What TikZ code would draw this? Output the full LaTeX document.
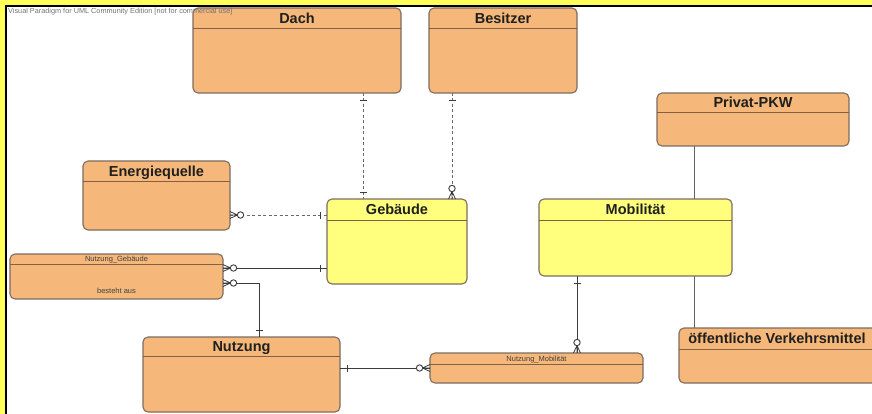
\documentclass[tikz,border=0pt]{standalone}
\usepackage{fontspec}
\setmainfont{Liberation Sans}
\usetikzlibrary{calc}
\definecolor{frameY}{RGB}{255,255,90}
\definecolor{entO}{RGB}{245,184,122}
\definecolor{entY}{RGB}{255,255,125}
\definecolor{edgeC}{RGB}{125,108,95}
\definecolor{hdrC}{RGB}{130,95,70}
\definecolor{connC}{RGB}{60,60,60}
\definecolor{dconnC}{RGB}{105,105,105}
\tikzset{
 ebox/.style={draw=edgeC, line width=1.1pt, rounded corners=5pt, anchor=north west, outer sep=0pt, inner sep=0pt},
 hline/.style={draw=hdrC, line width=1pt},
 etitle/.style={font=\fontsize{14.5}{16}\selectfont\bfseries, text=black!88, inner sep=0pt, text height=10pt, text depth=0pt},
 esmall/.style={font=\fontsize{7.5}{9}\selectfont, text=black!75, inner sep=0pt, text height=5.5pt, text depth=0pt},
 rel/.style={draw=connC, line width=0.8pt},
 drel/.style={draw=dconnC, line width=0.8pt, dash pattern=on 3pt off 2.5pt},
 onebar/.pic={\draw[connC, line width=0.8pt] (7,-3.5) -- (7,3.5);},
 zmany/.pic={\draw[connC, line width=0.8pt] (0,-3.5) -- (7.5,0) -- (0,3.5) (0,0) -- (7.5,0);
   \draw[connC, line width=0.9pt, fill=white] (10.5,0) circle (3.2);}
}
\newcommand\mkent[9]{%
 \node[ebox, fill=#7, minimum width=#4pt, minimum height=#5pt] (#1) at (#2,#3) {};
 \draw[hline] ($(#1.north west)+(0,#6)$) -- ($(#1.north east)+(0,#6)$);
 \node[#9] (#1-t) at ($(#1.north)+(0,#6/2)$) {#8};
}
\begin{document}
\begin{tikzpicture}[x=1pt,y=-1pt]
\useasboundingbox (0,0) rectangle (872,414);
\clip (0,0) rectangle (872,414);
% frame
\fill[frameY] (0,0) rectangle (872,414);
\fill[white] (6,6) rectangle (872,414);
\draw[black, line width=2pt] (6,414) -- (6,6) -- (872,6);

% entities
\mkent{dach}{193}{8}{208}{85}{21}{entO}{Dach}{etitle}
\mkent{bes}{429}{8}{148}{85}{21}{entO}{Besitzer}{etitle}
\mkent{pkw}{657}{93}{192}{53}{20}{entO}{Privat-PKW}{etitle}
\mkent{energ}{83}{161}{147}{69}{21}{entO}{Energiequelle}{etitle}
\mkent{geb}{327}{199}{140}{85}{21}{entY}{Geb\"aude}{etitle}
\mkent{mob}{539}{199}{193}{77}{21}{entY}{Mobilit\"at}{etitle}
\mkent{ng}{10}{254}{213}{45}{10}{entO}{Nutzung\_Geb\"aude}{esmall}
\node[esmall] (ng-b) at ($(ng.south)+(0,-8)$) {besteht aus};
\mkent{nutz}{143}{337}{197}{75}{19}{entO}{Nutzung}{etitle}
\mkent{nm}{430}{353}{213}{30}{11}{entO}{Nutzung\_Mobilit\"at}{esmall}
\mkent{oef}{679}{328}{220}{55}{21}{entO}{\hspace*{-24pt}\"offentliche Verkehrsmittel}{etitle}

% guide coordinates
\coordinate (x1) at (363,0);
\coordinate (x2) at (452,0);
\coordinate (y3) at (0,215);
\coordinate (y4) at (0,268);
\coordinate (y5) at (0,283);
\coordinate (x6) at (259,0);
\coordinate (x7) at (577,0);
\coordinate (y8) at (0,368);
\coordinate (x9) at (694,0);

% Dach -- Gebaeude
\draw[drel] (dach.south -| x1) -- (geb.north -| x1);
\path (dach.south -| x1) pic[rotate=-90]{onebar};
\path (geb.north -| x1) pic[rotate=90]{onebar};
% Besitzer -- Gebaeude
\draw[drel] (bes.south -| x2) -- (geb.north -| x2);
\path (bes.south -| x2) pic[rotate=-90]{onebar};
\path (geb.north -| x2) pic[rotate=90]{zmany};
% Energiequelle -- Gebaeude
\draw[drel] (energ.east |- y3) -- (geb.west |- y3);
\path (energ.east |- y3) pic{zmany};
\path (geb.west |- y3) pic[rotate=180]{onebar};
% Nutzung_Gebaeude -- Gebaeude
\draw[rel] (ng.east |- y4) -- (geb.west |- y4);
\path (ng.east |- y4) pic{zmany};
\path (geb.west |- y4) pic[rotate=180]{onebar};
% Nutzung_Gebaeude -- Nutzung
\draw[rel] (ng.east |- y5) -| (nutz.north -| x6);
\path (ng.east |- y5) pic{zmany};
\path (nutz.north -| x6) pic[rotate=90]{onebar};
% Mobilitaet -- Nutzung_Mobilitaet
\draw[rel] (mob.south -| x7) -- (nm.north -| x7);
\path (mob.south -| x7) pic[rotate=-90]{onebar};
\path (nm.north -| x7) pic[rotate=90]{zmany};
% Nutzung -- Nutzung_Mobilitaet
\draw[rel] (nutz.east |- y8) -- (nm.west |- y8);
\path (nutz.east |- y8) pic{onebar};
\path (nm.west |- y8) pic[rotate=180]{zmany};
% Mobilitaet -- PKW / oeffentliche
\draw[rel, draw=connC!80] (pkw.south -| x9) -- (mob.north -| x9);
\draw[rel, draw=connC!80] (mob.south -| x9) -- (oef.north -| x9);

% watermark
\node[anchor=west, inner sep=0pt, font=\fontsize{7.3}{8}\selectfont, text=black!55] (wm) at (8,12) {Visual Paradigm for UML Community Edition [not for commercial use]};
\end{tikzpicture}
\end{document}
